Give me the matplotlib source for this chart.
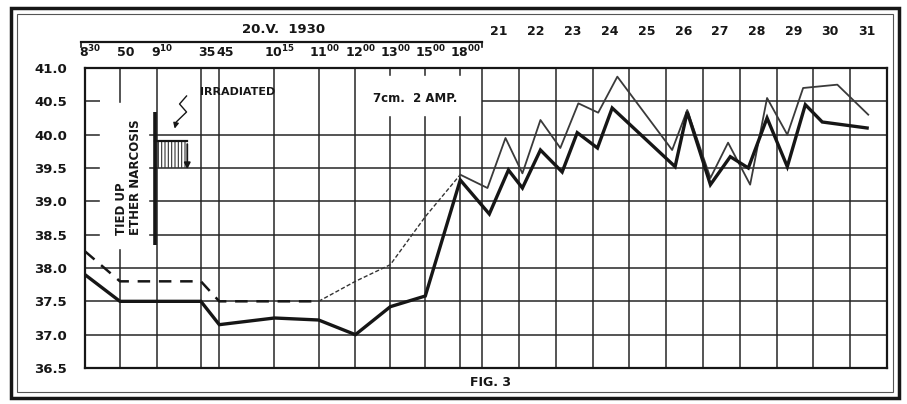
import matplotlib
matplotlib.use('Agg')
from matplotlib import pyplot as plt
from matplotlib.patches import Rectangle
from matplotlib.transforms import blended_transform_factory

plt.rcParams['font.family'] = ['DejaVu Sans']
plt.rcParams['font.weight'] = 'bold'
plt.rcParams['mathtext.fontset'] = 'dejavusans'
plt.rcParams['mathtext.default'] = 'bf'
plt.rcParams['hatch.linewidth'] = 0.8

# Zeitachse 20.V.1930 (ungleichmaessig gezeichnet) und Tage 21-31
hour_labels = [r'$8^{30}$', '50', r'$9^{10}$', '35', '45', r'$10^{15}$',
               r'$11^{00}$', r'$12^{00}$', r'$13^{00}$', r'$15^{00}$', r'$18^{00}$']
hour_pos = [9.7, 10.65, 11.65, 12.85, 13.35, 14.85, 16.05, 17.05, 18.0, 18.95, 19.9]
days = [21, 22, 23, 24, 25, 26, 27, 28, 29, 30, 31]

# Temperatur am 20.V. (an den Stundenlinien)
thick_hour = [37.9, 37.5, 37.5, 37.5, 37.15, 37.25, 37.22, 37.0, 37.42, 37.58, 39.32]
thin_hour = [38.25, 37.8, 37.8, 37.8, 37.5, 37.5, 37.5, 37.8, 38.05, 38.77, 39.4]

# Temperatur 21.-31. (zwei Messungen pro Tag)
thick_day_x = [20.69, 21.21, 21.59, 22.08, 22.67, 23.08, 23.63, 24.03, 25.74,
               26.07, 26.70, 27.24, 27.73, 28.24, 28.79, 29.28, 29.74, 30.96]
thick_day_y = [38.81, 39.47, 39.2, 39.77, 39.44, 40.03, 39.8, 40.4, 39.52,
               40.34, 39.25, 39.67, 39.5, 40.25, 39.52, 40.45, 40.19, 40.1]
thin_day_x = [20.64, 21.13, 21.59, 22.08, 22.62, 23.11, 23.65, 24.17, 25.66,
              26.07, 26.70, 27.18, 27.78, 28.24, 28.79, 29.22, 30.15, 30.99]
thin_day_y = [39.2, 39.95, 39.42, 40.22, 39.8, 40.47, 40.33, 40.87, 39.77,
              40.37, 39.35, 39.88, 39.25, 40.55, 40.0, 40.7, 40.75, 40.3]

y_ticks = [36.5, 37.0, 37.5, 38.0, 38.5, 39.0, 39.5, 40.0, 40.5, 41.0]

ink = '#161616'
grid_c = '#262626'

fig = plt.figure(figsize=(9.07, 4.04), dpi=100)
ax = fig.add_axes([85 / 907, 36 / 404, 802 / 907, 300 / 404])
ax.set_xlim(9.7, 31.5)
ax.set_ylim(36.5, 41.0)

# Gitter
day_edges = [20.5 + i for i in range(12)]
for v in y_ticks:
    if v == 40.5:
        ax.hlines(v, 9.7, 10.12, color=grid_c, lw=1.1, zorder=1)
        ax.hlines(v, 20.5, 31.5, color=grid_c, lw=1.1, zorder=1)
    else:
        ax.hlines(v, 9.7, 31.5, color=grid_c, lw=1.1, zorder=1)
ax.vlines(hour_pos[1:] + day_edges, 36.5, 41.0, color=grid_c, lw=1.1, zorder=1)

# weisse Felder fuer die Beschriftungen
ax.add_patch(Rectangle((10.12, 38.3), 1.28, 2.18, color='white', zorder=1.5))
ax.add_patch(Rectangle((17.5, 40.3), 2.7, 0.58, color='white', zorder=1.5))

# Kurven
thick_x = hour_pos + thick_day_x
thick_y = thick_hour + thick_day_y
ax.plot(thick_x, thick_y, color=ink, lw=2.4, solid_joinstyle='miter', zorder=4)

ax.plot(hour_pos[:7], thin_hour[:7], color=ink, lw=1.8, dashes=(5, 3.5), zorder=3)
ax.plot(hour_pos[6:], thin_hour[6:], color='#333333', lw=1.0, dashes=(3, 1.6), zorder=3)
ax.plot([hour_pos[-1]] + thin_day_x, [thin_hour[-1]] + thin_day_y,
        color='#3a3a3a', lw=1.3, zorder=3)

# Bestrahlung
ax.plot([11.61, 11.61], [38.35, 40.34], color=ink, lw=2.6, solid_capstyle='butt', zorder=4)
ax.add_patch(Rectangle((11.67, 39.5), 0.81, 0.4, fill=False, hatch='|||||',
                       edgecolor='#333333', lw=0, zorder=3))
ax.plot([11.61, 12.48], [39.9, 39.9], color=ink, lw=1.6, zorder=4)
ax.annotate('', xy=(12.48, 39.44), xytext=(12.48, 39.9),
            arrowprops=dict(arrowstyle='-|>', color=ink, lw=1.3, mutation_scale=9), zorder=4)
sq_x = [12.46, 12.27, 12.46, 12.18]
sq_y = [40.58, 40.46, 40.34, 40.19]
ax.plot(sq_x, sq_y, color=ink, lw=1.0, zorder=4)
ax.annotate('', xy=(12.12, 40.05), xytext=(12.18, 40.19),
            arrowprops=dict(arrowstyle='-|>', color=ink, lw=1.0, mutation_scale=8), zorder=4)

ax.text(13.84, 40.64, 'IRRADIATED', fontsize=8, ha='center', va='center', color=ink, zorder=5)
ax.text(18.68, 40.55, '7cm.  2 AMP.', fontsize=8.5, ha='center', va='center', color=ink, zorder=5)
ax.text(10.7, 38.5, 'TIED UP', fontsize=8.5, rotation=90, ha='center', va='bottom',
        color=ink, zorder=5)
ax.text(11.06, 38.5, 'ETHER NARCOSIS', fontsize=8.5, rotation=90, ha='center', va='bottom',
        color=ink, zorder=5)

# Achsen
for s in ax.spines.values():
    s.set_linewidth(1.6)
    s.set_color(ink)
ax.set_xticks([])
ax.set_yticks(y_ticks)
ax.set_yticklabels(['%.1f' % v for v in y_ticks], fontsize=9.5, fontweight='bold', color=ink)
ax.tick_params(axis='y', length=0, pad=13)

top = blended_transform_factory(ax.transData, ax.transAxes)
for p, lab in zip(hour_pos, hour_labels):
    ax.text(p + 0.15, 1.052, lab, transform=top, fontsize=9, ha='center', va='center',
            color=ink, clip_on=False)
for d in days:
    ax.text(d - 0.04, 1.122, str(d), transform=top, fontsize=9, ha='center', va='center',
            color=ink, clip_on=False)
ax.plot([9.6, 20.5], [1.087, 1.087], transform=top, color=ink, lw=1.6, clip_on=False)
ax.plot([9.6, 9.6], [1.087, 1.07], transform=top, color=ink, lw=1.2, clip_on=False)
ax.plot([20.5, 20.5], [1.087, 1.07], transform=top, color=ink, lw=1.2, clip_on=False)
ax.text(15.1, 1.13, '20.V.  1930', transform=top, fontsize=9.5, ha='center', va='center',
        color=ink, clip_on=False)
ax.text(20.72, -0.047, 'FIG. 3', transform=top, fontsize=9, ha='center', va='center',
        color=ink, clip_on=False)

# Rahmen des Bildes
def fx(x):
    return x / 907


def fy(y):
    return 1 - y / 404


fig.add_artist(Rectangle((fx(11), fy(398)), fx(888), 390 / 404, transform=fig.transFigure,
                         fill=False, lw=2.5, edgecolor=ink))
fig.add_artist(Rectangle((fx(17), fy(392)), fx(876), 378 / 404, transform=fig.transFigure,
                         fill=False, lw=0.8, edgecolor='#555555'))

fig.savefig('out.png', dpi=100)
